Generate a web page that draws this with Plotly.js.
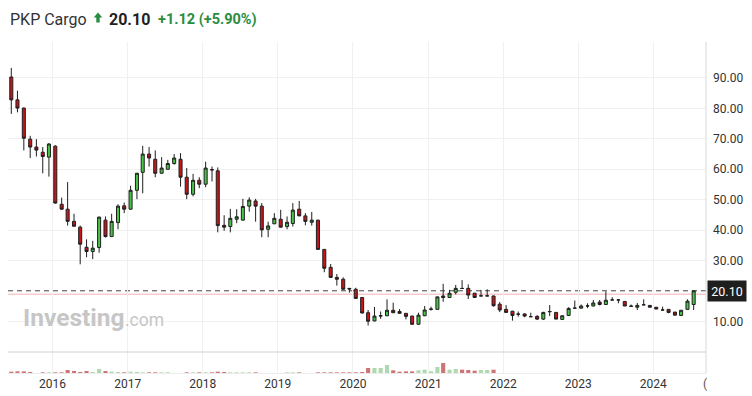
<!DOCTYPE html>
<html><head><meta charset="utf-8">
<script src="https://cdn.plot.ly/plotly-3.0.1.min.js"></script>
<style>html,body{margin:0;padding:0;background:#fff}#c{width:752px;height:396px}</style>
</head><body><div id="c"></div>
<script>
const months = [
 '2015-06-15','2015-07-15','2015-08-15','2015-09-15','2015-10-15','2015-11-15','2015-12-15',
 '2016-01-15','2016-02-15','2016-03-15','2016-04-15','2016-05-15','2016-06-15','2016-07-15','2016-08-15','2016-09-15','2016-10-15','2016-11-15','2016-12-15',
 '2017-01-15','2017-02-15','2017-03-15','2017-04-15','2017-05-15','2017-06-15','2017-07-15','2017-08-15','2017-09-15','2017-10-15','2017-11-15','2017-12-15',
 '2018-01-15','2018-02-15','2018-03-15','2018-04-15','2018-05-15','2018-06-15','2018-07-15','2018-08-15','2018-09-15','2018-10-15','2018-11-15','2018-12-15',
 '2019-01-15','2019-02-15','2019-03-15','2019-04-15','2019-05-15','2019-06-15','2019-07-15','2019-08-15','2019-09-15','2019-10-15','2019-11-15','2019-12-15',
 '2020-01-15','2020-02-15','2020-03-15','2020-04-15','2020-05-15','2020-06-15','2020-07-15','2020-08-15','2020-09-15','2020-10-15','2020-11-15','2020-12-15',
 '2021-01-15','2021-02-15','2021-03-15','2021-04-15','2021-05-15','2021-06-15','2021-07-15','2021-08-15','2021-09-15','2021-10-15','2021-11-15','2021-12-15',
 '2022-01-15','2022-02-15','2022-03-15','2022-04-15','2022-05-15','2022-06-15','2022-07-15','2022-08-15','2022-09-15','2022-10-15','2022-11-15','2022-12-15',
 '2023-01-15','2023-02-15','2023-03-15','2023-04-15','2023-05-15','2023-06-15','2023-07-15','2023-08-15','2023-09-15','2023-10-15','2023-11-15','2023-12-15',
 '2024-01-15','2024-02-15','2024-03-15','2024-04-15','2024-05-15','2024-06-15','2024-07-15'
];
const openP = [
 90.3,82.8,80.1,69.9,67.3,65.6,64.0,
 67.6,48.5,46.9,42.9,41.0,34.4,33.0,34.3,43.3,37.9,42.5,48.0,
 46.9,53.1,59.0,65.0,63.3,58.7,60.0,61.9,63.3,57.4,51.8,56.4,
 55.1,59.9,59.5,41.6,41.2,43.6,43.3,47.9,49.6,47.9,40.3,42.1,
 43.6,41.2,42.2,46.9,44.7,42.6,43.3,33.7,27.8,24.5,23.9,20.9,
 20.6,17.9,12.9,10.2,11.8,11.9,13.7,13.3,12.7,11.8,9.1,11.9,
 14.0,14.0,18.4,17.9,19.6,20.9,20.9,19.3,18.4,18.4,18.4,15.7,
 14.0,13.4,12.4,12.5,11.6,11.7,10.8,13.2,13.0,10.7,12.0,14.4,
 14.4,15.1,15.1,16.4,15.6,17.1,17.1,16.6,15.1,14.7,15.5,15.3,
 14.7,13.8,14.0,13.1,12.0,14.0,15.6
];
const highP = [
 93.3,85.8,80.3,71.0,69.9,67.3,68.6,
 67.9,50.7,55.8,45.4,41.5,37.0,36.5,44.4,44.5,45.4,48.5,49.1,
 54.6,58.8,67.7,67.3,66.2,64.0,63.1,65.0,65.3,60.4,58.5,57.4,
 62.5,60.9,60.6,44.9,47.0,46.9,50.3,50.8,50.3,48.9,42.8,45.6,
 46.7,44.5,48.9,49.6,45.6,46.0,43.4,33.8,28.9,25.6,24.5,20.9,
 21.1,18.0,13.8,14.8,13.3,17.3,16.2,14.1,12.8,11.9,12.9,15.1,
 14.9,18.2,22.4,20.4,22.0,23.6,22.2,19.4,20.4,20.6,18.5,16.4,
 15.4,13.5,13.3,12.7,12.9,12.1,13.2,15.4,13.1,12.0,14.7,16.9,
 15.6,16.0,17.1,17.1,19.9,18.0,17.4,16.7,15.6,16.1,17.3,15.4,
 14.8,14.9,14.1,13.2,13.8,17.3,20.1
];
const lowP = [
 78.2,78.7,66.2,63.7,64.2,58.7,57.6,
 48.7,46.8,41.5,41.2,28.8,31.1,30.5,32.6,37.6,37.8,40.3,45.6,
 46.8,50.2,52.1,60.9,57.4,58.6,59.9,61.5,54.3,50.2,51.1,53.8,
 54.1,56.0,39.3,39.8,39.3,42.3,43.2,46.1,42.8,37.7,37.7,42.0,
 40.9,40.3,41.2,44.6,41.6,41.5,33.6,26.2,24.4,21.8,20.5,19.5,
 17.5,12.7,8.7,10.1,10.9,11.8,12.8,12.6,10.7,9.0,9.0,11.8,
 13.6,13.9,16.5,17.8,18.9,20.8,17.4,17.9,18.3,18.3,14.9,13.1,
 12.9,10.3,11.6,11.4,11.5,10.5,10.5,11.8,10.8,10.6,11.9,14.3,
 14.3,14.4,15.0,15.3,15.5,17.0,16.0,15.1,14.8,13.8,15.4,14.7,
 14.1,13.7,12.7,12.1,11.9,13.9,13.8
];
const closeP = [
 82.8,80.1,70.2,67.3,66.3,64.2,68.3,
 48.9,46.9,42.9,41.3,35.4,33.0,34.1,44.3,37.9,42.9,47.9,46.9,
 53.1,58.7,65.0,63.7,58.7,60.4,61.9,63.7,57.4,51.8,56.4,55.1,
 60.4,59.8,41.5,41.0,43.9,44.4,47.8,49.9,47.9,40.1,41.4,43.9,
 41.0,42.6,46.6,44.7,42.9,43.3,33.7,27.5,24.5,23.9,20.6,20.7,
 17.6,12.8,10.1,11.8,11.9,13.7,12.9,12.7,11.7,9.1,12.1,13.8,
 14.1,18.1,17.9,19.3,20.9,20.85,18.7,17.9,18.45,18.45,15.2,13.8,
 13.0,12.0,12.45,11.8,11.6,10.8,13.0,13.3,10.8,11.9,14.3,14.4,
 15.1,15.15,16.1,15.6,17.0,17.1,17.1,15.1,15.0,15.3,15.5,14.7,
 14.1,13.8,13.0,12.1,13.7,16.7,20.1
];
const volume = [
 4,5,5,3,0,2,2,
 2,2,9,6,3,6,3,12,6,4,3,2,
 4,3,2,2,2,2,2,0,0,2,2,2,
 2,2,4,3,2,2,2,2,2,0,0,0,
 0,2,2,2,0,0,2,2,2,2,2,2,
 2,3,15,15,15,24,8,4,5,5,8,10,
 5,18,30,10,12,10,9,7,9,9,10,0,
 0,0,0,0,0,0,0,0,0,0,0,0,
 0,0,0,0,0,0,0,0,0,0,0,0,
 0,0,0,0,0,0,0
];
const yearTicks = ['2016-01-01','2017-01-01','2018-01-01','2019-01-01','2020-01-01','2021-01-01','2022-01-01','2023-01-01','2024-01-01'];
const yearLabels = ['2016','2017','2018','2019','2020','2021','2022','2023','2024'];
const priceTicks = [10,30,40,50,60,70,80,90];
const priceLabels = ['10.00','30.00','40.00','50.00','60.00','70.00','80.00','90.00'];
const lastPrice = 20.10;
const prevClose = 18.98;
const titleName = 'PKP Cargo';
const titlePrice = '20.10';
const titleChange = '+1.12 (+5.90%)';

const W=752,H=396,L=8,R=46,T=42,B=23;
const PW=W-L-R, PH=H-T-B;
const px = v => (v-L)/PW;
const py = v => (H-B-v)/PH;
const vd = (H-B-352)/PH;

const volColors = closeP.map((c,i)=> c>=openP[i] ? 'rgba(120,190,120,0.6)' : 'rgba(190,70,70,0.75)');
const font = 'Roboto, Arial, sans-serif';

const data = [
 {type:'candlestick', x:months, open:openP, high:highP, low:lowP, close:closeP,
  xaxis:'x', yaxis:'y', hoverinfo:'skip',
  increasing:{line:{color:'#1f1f1f',width:1}, fillcolor:'#48c448'},
  decreasing:{line:{color:'#1f1f1f',width:1}, fillcolor:'#c4161b'},
  whiskerwidth:0},
 {type:'bar', x:months, y:volume, xaxis:'x', yaxis:'y2', marker:{color:volColors, line:{width:0}},
  width:20*86400000, hoverinfo:'skip'}
];

const arrowPath = () => {
  const pts = [[98,12.5],[102.3,17.6],[99.7,17.6],[99.7,22.6],[96.3,22.6],[96.3,17.6],[93.7,17.6]];
  return 'M' + pts.map(p=>px(p[0])+','+py(p[1])).join(' L') + ' Z';
};

const layout = {
 width:W, height:H, margin:{l:L,r:R,t:T,b:B,pad:0},
 paper_bgcolor:'#fff', plot_bgcolor:'#fff', showlegend:false, hovermode:false,
 font:{family:font, color:'#333', size:12},
 boxgap:0.25,
 xaxis:{type:'date', range:['2015-05-30','2024-09-13'], anchor:'y2',
   tickvals:yearTicks, ticktext:yearLabels, ticks:'', showgrid:true, gridcolor:'#f0f0f0', gridwidth:1,
   showline:true, linecolor:'#ececec', linewidth:1, zeroline:false,
   tickfont:{size:12, color:'#333', family:font}, rangeslider:{visible:false}, fixedrange:true},
 yaxis:{domain:[vd,1], range:[0,101.8], side:'right', tickvals:priceTicks, ticktext:priceLabels,
   ticks:'', showgrid:true, gridcolor:'#f0f0f0', zeroline:false, showline:false,
   tickfont:{size:12, color:'#333', family:font}, ticklabelstandoff:6, fixedrange:true},
 yaxis2:{domain:[0,vd], range:[0,63], showgrid:false, zeroline:false, showticklabels:false, ticks:'', fixedrange:true},
 shapes:[
  {type:'line', xref:'paper', yref:'paper', x0:0, x1:1, y0:vd, y1:vd, line:{color:'#d2d2d2', width:1}},
  {type:'line', xref:'paper', yref:'paper', x0:1, x1:1, y0:0, y1:1, line:{color:'#d8d8d8', width:1}},
  {type:'line', xref:'paper', yref:'y', x0:0, x1:1, y0:prevClose, y1:prevClose, line:{color:'#f2b3b3', width:1}, layer:'below'},
  {type:'line', xref:'paper', yref:'y', x0:0, x1:1, y0:lastPrice, y1:lastPrice, line:{color:'#444', width:1, dash:'5px,4px'}, layer:'below'},
  {type:'path', xref:'paper', yref:'paper', path:arrowPath(), fillcolor:'#2a8c3f', line:{width:0}}
 ],
 annotations:[
  {xref:'paper', yref:'paper', x:px(8), y:py(19), xanchor:'left', yanchor:'middle', showarrow:false,
   text:titleName, font:{size:16, color:'#333', family:font}},
  {xref:'paper', yref:'paper', x:px(107), y:py(19), xanchor:'left', yanchor:'middle', showarrow:false,
   text:'<b>'+titlePrice+'</b>', font:{size:16, color:'#222', family:font}},
  {xref:'paper', yref:'paper', x:px(156), y:py(19), xanchor:'left', yanchor:'middle', showarrow:false,
   text:'<b>'+titleChange+'</b>', font:{size:14.5, color:'#2a8c3f', family:font}},
  {xref:'paper', yref:'y', x:px(707), y:lastPrice, xanchor:'left', yanchor:'middle', showarrow:false,
   text:lastPrice.toFixed(2), width:38, height:20, bgcolor:'#1e1e1e', borderpad:0,
   font:{size:12.5, color:'#fff', family:font}},
  {xref:'paper', yref:'paper', x:px(21), y:py(317), xanchor:'left', yanchor:'middle', showarrow:false,
   text:'<b>Investing</b>', font:{size:24.5, color:'#c6c6c6', family:font}},
  {xref:'paper', yref:'paper', x:px(123), y:py(319.5), xanchor:'left', yanchor:'middle', showarrow:false,
   text:'.com', font:{size:17.5, color:'#c6c6c6', family:font}},
  {xref:'paper', yref:'paper', x:px(705), y:py(384), xanchor:'center', yanchor:'middle', showarrow:false,
   text:'(', font:{size:12, color:'#555', family:font}}
 ]
};
Plotly.newPlot('c', data, layout, {staticPlot:true, displayModeBar:false});
</script></body></html>
